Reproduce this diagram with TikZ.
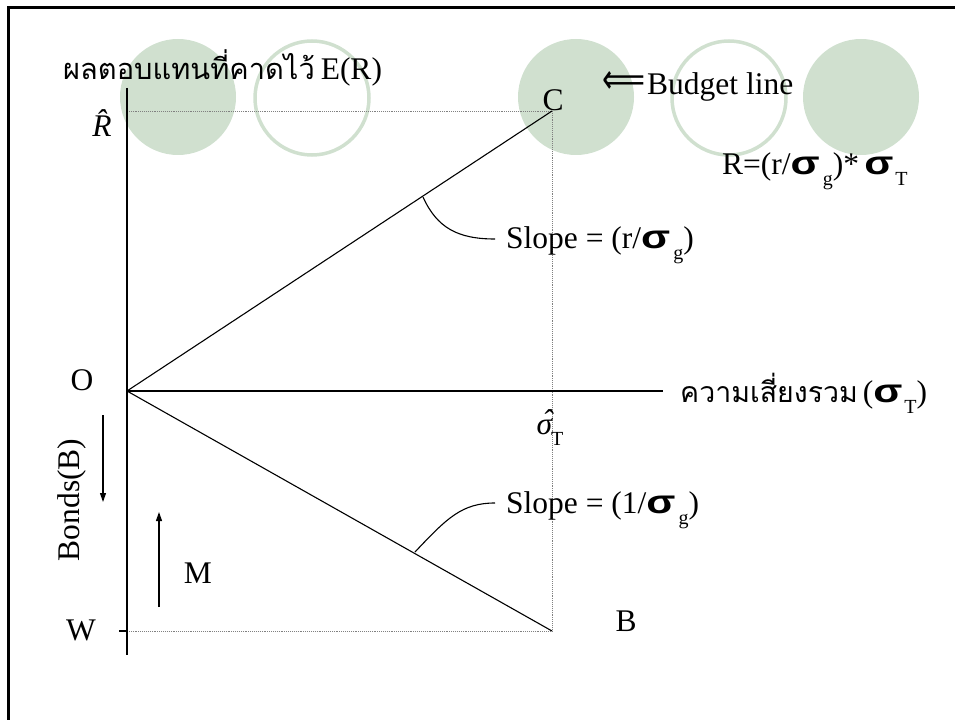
\documentclass[tikz,border=0pt]{standalone}
\usepackage{fontspec}
\setmainfont{Liberation Serif}
\newfontfamily\thaifont[Script=Thai]{Loma}
\newfontfamily\sigfont{Liberation Sans}
\newfontfamily\arrowfont{DejaVu Sans}
\usetikzlibrary{arrows.meta}
\definecolor{circgreen}{RGB}{208,224,207}
\newcommand{\sg}{\scalebox{1.35}[1.05]{\sigfont\bfseries σ}}
\newcommand{\lowsub}[1]{\raisebox{-11bp}{\fontsize{20bp}{22bp}\selectfont #1}}
\tikzset{
  lbl/.style={inner sep=0pt, font=\fontsize{31.5bp}{34bp}\selectfont},
  axis/.style={line width=1.2bp, black},
  guide/.style={line width=0.9bp, gray, densely dotted},
  budget/.style={line width=1.1bp, black},
  callout/.style={line width=1.1bp, black},
  movearrow/.style={line width=1.1bp, -{Triangle[width=6bp,length=9bp]}},
  fullcirc/.style={fill=circgreen, draw=none},
  ringcirc/.style={draw=circgreen, line width=3.5bp, fill=none}
}
\begin{document}
\begin{tikzpicture}[x=1bp,y=-1bp]
\useasboundingbox (0,0) rectangle (955,720);
% background decorative circles
\fill[fullcirc] (178,97) circle (58);
\draw[ringcirc] (312,98) circle (57);
\fill[fullcirc] (576,97) circle (58);
\draw[ringcirc] (729,98) circle (57);
\fill[fullcirc] (861,97) circle (58);
% frame
\draw[line width=3bp] (8,725) -- (8,8) -- (960,8);
% key points
\coordinate (O) at (127,391);
\coordinate (C) at (552,111);
\coordinate (B) at (552,631);
\coordinate (Rh) at (127,111);
\coordinate (Wp) at (127,631);
\coordinate (Wt) at (119,631);
\coordinate (ytop) at (127,88);
\coordinate (ybot) at (127,655);
\coordinate (xend) at (663,391);
% guides
\draw[guide] (Rh) -- (C);
\draw[guide] (C) -- (B);
\draw[guide] (Wp) -- (B);
% axes
\draw[axis] (ytop) -- (ybot);
\draw[axis] (O) -- (xend);
\draw[axis] (Wt) -- (Wp);
% budget lines
\draw[budget] (O) -- (C);
\draw[budget] (O) -- (B);
% labels
\node[lbl, anchor=base west] (ylab) at (63,80) {{\thaifont\fontsize{29bp}{32bp}\selectfont ผลตอบแทนที่คาดไว้}\kern6bp E(R)};
\node[lbl] (Rhat) at (102,123) {\itshape\^{R}};
\node[lbl] (Clab) at (553,100) {C};
\node[inner sep=0pt] (budarrow) at (624,83) {\resizebox{43bp}{22bp}{\arrowfont ⟸}};
\node[lbl, anchor=base west] (bud) at (647,95) {Budget line};
\node[lbl, anchor=base west] (form) at (722,175) {R=(r/\sg\kern3bp\lowsub{g})*\,\sg\kern2bp\lowsub{T}};
\node[lbl, anchor=base west] (s1) at (506,248) {Slope = (r/\sg\kern3bp\lowsub{g})};
\node[lbl, anchor=base west] (s2) at (506,513) {Slope = (1/\sg\kern3bp\lowsub{g})};
\node[lbl] (Olab) at (82,380) {O};
\node[lbl] (Wlab) at (81,630) {W};
\node[lbl] (Blab) at (626,621) {B};
\node[lbl] (Mlab) at (198,573) {M};
\node[lbl] (sT) at (550,428) {\itshape\rlap{\kern5.5bp\raisebox{3bp}{ˆ}}σ\upshape\kern-1bp\lowsub{T}};
\node[lbl, anchor=base west] (xlab) at (680,402) {{\thaifont\fontsize{28.5bp}{31bp}\selectfont ความเสี่ยงรวม}\kern5bp(\sg\kern2bp\lowsub{T})};
\node[lbl, rotate=90] (bonds) at (72,500) {Bonds(B)};
% arrows
\coordinate (d1) at (103,415);
\coordinate (d2) at (103,502);
\coordinate (u1) at (159,607);
\coordinate (u2) at (159,512);
\draw[movearrow] (d1) -- (d2);
\draw[movearrow] (u1) -- (u2);
% callouts
\coordinate (c1a) at (423,197);
\coordinate (c1b) at (495,239);
\coordinate (c2a) at (415,552);
\coordinate (c2b) at (495,503);
\draw[callout] (c1a) .. controls (437,228) and (458,239) .. (c1b);
\draw[callout] (c2a) .. controls (447,518) and (462,503) .. (c2b);
\end{tikzpicture}
\end{document}
